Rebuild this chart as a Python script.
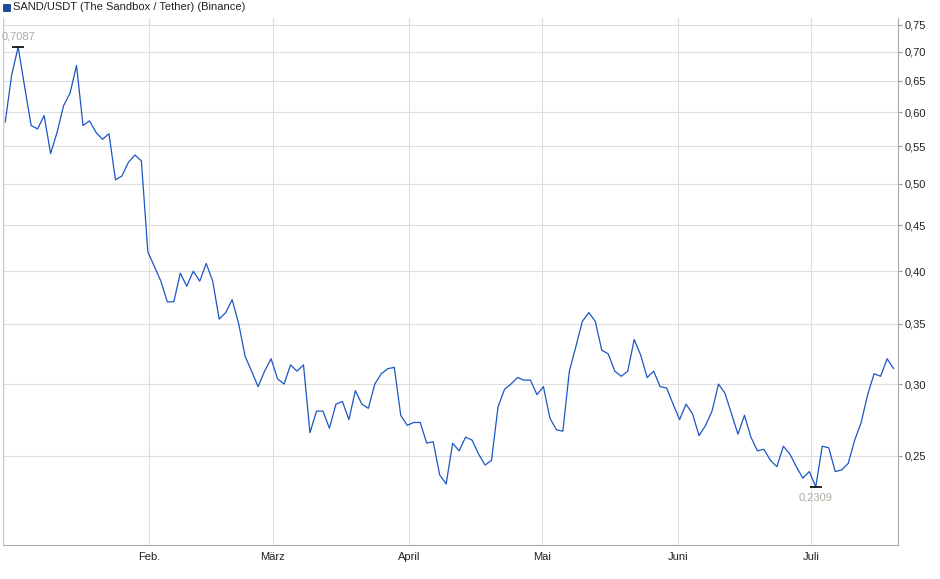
import numpy as np, pandas as pd, matplotlib
matplotlib.use("Agg")
import matplotlib.pyplot as plt, seaborn as sns
from matplotlib.ticker import FixedLocator, NullLocator

prices = [0.585,0.66,0.7087,0.64,0.58,0.575,0.595,0.54,0.57,0.61,0.63,0.676,0.58,0.587,0.57,0.56,0.568,
          0.505,0.51,0.528,0.538,0.53,0.42,0.405,0.39,0.37,0.37,0.398,0.385,0.40,0.39,0.408,0.39,0.354,
          0.36,0.372,0.35,0.322,0.31,0.298,0.31,0.32,0.304,0.30,0.315,0.31,0.315,0.265,0.28,0.28,0.268,
          0.285,0.287,0.274,0.295,0.285,0.282,0.30,0.308,0.312,0.313,0.277,0.270,0.272,0.272,0.258,0.259,
          0.238,0.2325,0.258,0.253,0.262,0.26,0.251,0.244,0.247,0.283,0.296,0.300,0.305,0.303,0.303,0.292,
          0.298,0.275,0.267,0.266,0.31,0.33,0.352,0.36,0.352,0.327,0.324,0.31,0.306,0.31,0.336,0.323,
          0.305,0.31,0.298,0.297,0.285,0.274,0.285,0.278,0.263,0.27,0.28,0.30,0.293,0.278,0.264,0.277,
          0.262,0.253,0.254,0.247,0.243,0.256,0.251,0.243,0.236,0.24,0.2309,0.256,0.255,0.24,0.241,0.245,
          0.26,0.272,0.292,0.308,0.306,0.320,0.312]
start, end = pd.Timestamp("2024-12-30 10:00"), pd.Timestamp("2025-07-19 18:00")
dates = pd.to_datetime(np.linspace(start.value, end.value, len(prices)))
yticks = [0.25,0.30,0.35,0.40,0.45,0.50,0.55,0.60,0.65,0.70,0.75]
months = ["2025-02-01","2025-03-01","2025-04-01","2025-05-01","2025-06-01","2025-07-01"]
month_labels = ["Feb.","März","April","Mai","Juni","Juli"]
title = "SAND/USDT (The Sandbox / Tether) (Binance)"
df = pd.DataFrame({"date": dates, "price": prices})

sns.set_style("white")
plt.rcParams['font.family'] = ['Liberation Sans', 'DejaVu Sans']
fig = plt.figure(figsize=(9.4, 5.79), dpi=100)
ax = fig.add_axes([3/940, 1-545/579, 895/940, 527/579])
sns.lineplot(data=df, x="date", y="price", ax=ax, color="#1a56c4", lw=0.9)
ax.set_yscale("log")
ax.set_ylim(0.199, 0.763)
ax.set_xlim(pd.Timestamp("2024-12-29 22:00"), pd.Timestamp("2025-07-20 18:00"))
ax.yaxis.set_major_locator(FixedLocator(yticks)); ax.yaxis.set_minor_locator(NullLocator())
ax.set_yticklabels([f"{t:.2f}".replace(".", ",") for t in yticks])
ax.yaxis.tick_right()
ax.set_xticks(pd.to_datetime(months)); ax.set_xticklabels(month_labels)
ax.xaxis.set_minor_locator(NullLocator())
ax.tick_params(labelsize=8, length=3, color="#999999", labelcolor="#222222", pad=2)
ax.grid(True, color="#dddddd", lw=0.8)
ax.set_xlabel(""); ax.set_ylabel("")
for s in ["top","left"]: ax.spines[s].set_visible(False)
for s in ["right","bottom"]: ax.spines[s].set_color("#aaaaaa")
ax.plot([0,0],[0,1], transform=ax.transAxes, color="#cccccc", lw=1)

imax = int(np.argmax(prices)); imin = int(np.argmin(prices))
for i, off, va in [(imax, 4, "bottom"), (imin, -4, "top")]:
    ax.plot(dates[i], prices[i], marker="_", color="black", ms=8, mew=1.2)
    ax.annotate(f"{prices[i]:.4f}".replace(".", ","), (dates[i], prices[i]), xytext=(0, off),
                textcoords="offset points", ha="center", va=va, fontsize=8, color="#b0a8a0")
fig.patches.append(plt.Rectangle((3/940, 1-11/579), 7/940, 7/579, transform=fig.transFigure,
                                 facecolor="#1a4aa8", edgecolor="#0a2a6a", lw=0.5))
fig.text(13/940, 1-7.5/579, title, fontsize=8, va="center", color="#222222")
fig.savefig("out.png", dpi=100)
